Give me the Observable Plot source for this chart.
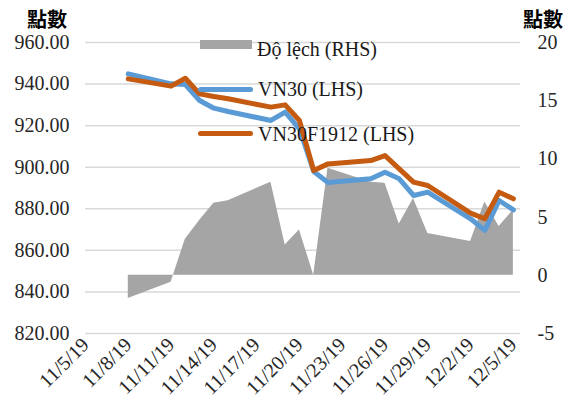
<!DOCTYPE html>
<html>
<head>
<meta charset="utf-8">
<script src="https://cdn.jsdelivr.net/npm/d3@7"></script>
<script src="https://cdn.jsdelivr.net/npm/@observablehq/plot@0.6"></script>
<style>
  html, body { margin: 0; padding: 0; background: #fff; }
  #wrap { position: relative; width: 575px; height: 403px; overflow: hidden; font-family: "Liberation Serif", "DejaVu Serif", "Noto Serif", "Noto Serif CJK TC", Tinos, FreeSerif, serif; }
  .ttl { position: absolute; font-family: "Noto Sans CJK TC", sans-serif; font-weight: bold; font-size: 20px; line-height: 20px; color: #000; }
  .lg { position: absolute; font-family: "Liberation Serif", "DejaVu Serif", "Noto Serif", "Noto Serif CJK TC", Tinos, FreeSerif, serif; font-size: 20px; line-height: 20px; color: #1a1a1a; white-space: nowrap; }
  .sw { position: absolute; }
  svg text { font-family: "Liberation Serif", "DejaVu Serif", "Noto Serif", "Noto Serif CJK TC", Tinos, FreeSerif, serif; }
</style>
</head>
<body>
<div id="wrap"></div>
<script>
// ---- data ----
const dates = ["2019-11-08","2019-11-11","2019-11-12","2019-11-13","2019-11-14","2019-11-15",
               "2019-11-18","2019-11-19","2019-11-20","2019-11-21","2019-11-22",
               "2019-11-25","2019-11-26","2019-11-27","2019-11-28","2019-11-29",
               "2019-12-02","2019-12-03","2019-12-04","2019-12-05"];
const vn30  = [944.9, 940.1, 939.8, 932.1, 928.4, 926.8, 922.5, 926.5, 918.5, 897.9, 892.7,
               894.4, 897.6, 894.4, 886.4, 888.0, 875.2, 869.6, 884.0, 879.5];
const vn30f = [942.5, 939.0, 942.8, 935.3, 934.0, 932.9, 928.9, 930.0, 922.5, 898.4, 901.6,
               903.2, 905.6, 899.2, 892.8, 891.2, 877.9, 875.2, 888.0, 884.8];
const dev   = [-2.0, -0.6, 3.1, 4.7, 6.2, 6.4, 8.0, 2.6, 3.9, 0.0, 9.2,
               8.0, 7.9, 4.4, 6.6, 3.6, 2.9, 6.3, 4.2, 5.6];
const xTickLabels = ["11/5/19","11/8/19","11/11/19","11/14/19","11/17/19","11/20/19",
                     "11/23/19","11/26/19","11/29/19","12/2/19","12/5/19"];
const leftTicks  = [820, 840, 860, 880, 900, 920, 940, 960];
const rightTicks = [-5, 0, 5, 10, 15, 20];
const seriesNames = ["Độ lệch (RHS)", "VN30 (LHS)", "VN30F1912 (LHS)"];
const axisTitle = "點數";

// ---- helpers ----
const parseTick = s => { const [m, d, y] = s.split("/").map(Number); return new Date(Date.UTC(2000 + y, m - 1, d)); };
const fmtTick = d => `${d.getUTCMonth() + 1}/${d.getUTCDate()}/${String(d.getUTCFullYear()).slice(2)}`;
const L0 = 820, L1 = 960, R0 = -5, R1 = 20;
const toLeft = r => L0 + (r - R0) * (L1 - L0) / (R1 - R0);
const fromLeft = v => R0 + (v - L0) * (R1 - R0) / (L1 - L0);

const data = dates.map((s, i) => ({ date: new Date(s + "T00:00:00Z"), vn30: vn30[i], vn30f: vn30f[i], dev: dev[i] }));
const tickDates = xTickLabels.map(parseTick);
const xStart = tickDates[0];
const xEnd = new Date(tickDates[tickDates.length - 1].getTime() + 12 * 3600e3);

const C_GRAY = "#a5a5a5", C_BLUE = "#5b9bd5", C_ORANGE = "#c55a11";
const SERIF = "'Liberation Serif', 'DejaVu Serif', 'Noto Serif', 'Noto Serif CJK TC', Tinos, FreeSerif, serif";

const chart = Plot.plot({
  width: 575, height: 403,
  marginLeft: 85, marginRight: 55, marginTop: 42, marginBottom: 70,
  style: { fontFamily: SERIF, fontSize: "20px", color: "#262626", background: "transparent" },
  x: { type: "utc", domain: [xStart, xEnd] },
  y: { domain: [L0, L1] },
  marks: [
    Plot.gridY(leftTicks, { stroke: "#d9d9d9", strokeOpacity: 1, strokeWidth: 1.5 }),
    Plot.areaY(data, { x: "date", y1: () => toLeft(0), y2: d => toLeft(d.dev), fill: C_GRAY, curve: "linear" }),
    Plot.line(data, { x: "date", y: "vn30", stroke: C_BLUE, strokeWidth: 5, strokeLinejoin: "round", strokeLinecap: "round" }),
    Plot.line(data, { x: "date", y: "vn30f", stroke: C_ORANGE, strokeWidth: 5, strokeLinejoin: "round", strokeLinecap: "round" }),
    Plot.axisY(leftTicks, { anchor: "left", tickFormat: d => d.toFixed(2), tickSize: 0, tickPadding: 16, label: null, fontSize: 20 }),
    Plot.axisY(rightTicks.map(toLeft), { anchor: "right", tickFormat: v => String(Math.round(fromLeft(v))), tickSize: 0, tickPadding: 17, label: null, fontSize: 20 }),
    Plot.axisX(tickDates, { anchor: "bottom", tickFormat: fmtTick, tickRotate: -45, tickSize: 0, tickPadding: 8, label: null, fontSize: 20 })
  ]
});

const wrap = document.getElementById("wrap");
chart.style.position = "absolute";
chart.style.left = "0px";
chart.style.top = "0px";
wrap.appendChild(chart);

function addDiv(cls, text, css) {
  const el = document.createElement("div");
  el.className = cls;
  if (text) el.textContent = text;
  Object.assign(el.style, css);
  wrap.appendChild(el);
  return el;
}
// axis titles
addDiv("ttl", axisTitle, { left: "27px", top: "9px" });
addDiv("ttl", axisTitle, { left: "523px", top: "9px" });
// legend
addDiv("sw", "", { left: "200px", top: "40px", width: "52px", height: "9px", background: C_GRAY });
addDiv("sw", "", { left: "198px", top: "86.5px", width: "55px", height: "5px", background: C_BLUE, borderRadius: "2.5px" });
addDiv("sw", "", { left: "198px", top: "131px", width: "55px", height: "5px", background: C_ORANGE, borderRadius: "2.5px" });
addDiv("lg", seriesNames[0], { left: "257px", top: "39px" });
addDiv("lg", seriesNames[1], { left: "258px", top: "79px" });
addDiv("lg", seriesNames[2], { left: "258px", top: "124px" });
</script>
</body>
</html>
